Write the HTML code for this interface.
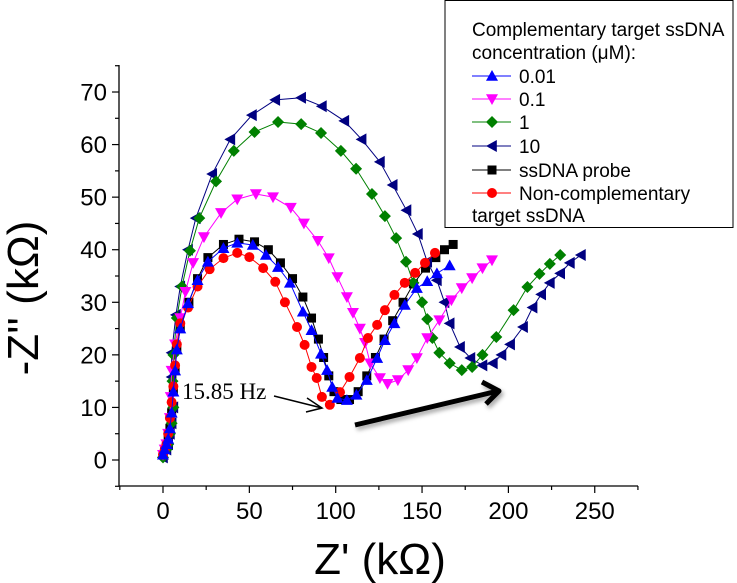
<!DOCTYPE html>
<html><head><meta charset="utf-8"><style>
body{margin:0;background:#fff;}
svg{display:block;font-family:"Liberation Sans",sans-serif;}
</style></head><body>
<svg id="chart" width="737" height="583" viewBox="0 0 737 583">
<defs><filter id="sh" x="-20%" y="-50%" width="140%" height="250%"><feDropShadow dx="2" dy="3" stdDeviation="2" flood-color="#000" flood-opacity="0.35"/></filter></defs>
<g id="axes"></g>
<g id="series"></g>
<text x="182" y="399" font-family="Liberation Serif,serif" font-size="23">15.85 Hz</text>
<line x1="274" y1="396" x2="322" y2="408" stroke="#000" stroke-width="1.5"/>
<polyline points="307,398 322,408 306,412" fill="none" stroke="#000" stroke-width="1.5"/>
<g filter="url(#sh)">
<line x1="355" y1="425" x2="498" y2="391" stroke="#000" stroke-width="5"/>
<polyline points="482,382 499,391 486,404" fill="none" stroke="#000" stroke-width="5" stroke-linejoin="round"/>
</g>
<text transform="translate(38,298) rotate(-90)" text-anchor="middle" font-size="44">-Z'' (kΩ)</text>
<text x="380" y="574" text-anchor="middle" font-size="44">Z' (kΩ)</text>
<g id="legend">
<rect x="445" y="0.5" width="288" height="227" fill="#fff" stroke="#000" stroke-width="1"/>
<text x="472" y="36" font-size="19">Complementary target ssDNA</text>
<text x="472" y="59" font-size="19">concentration (μM):</text>
<text x="472" y="222" font-size="19">target ssDNA</text>
</g>
</svg>
<script>
const xTicks=[0,50,100,150,200,250];
const yTicks=[0,10,20,30,40,50,60,70];
const seriesNames=["0.01","0.1","1","10","ssDNA probe","Non-complementary"];
const s001x=[0,1,2,3,4,5,6,7,8,10,14.5,20,26,35,43,52,59.6,66.6,73.5,81,86,91.5,95,98,101,106.5,112,118,124,128.5,134,140,147,153,158.6,166];
const s001y=[1,2,3,4,6,9,13,17,21,25,29.8,34.2,37.7,40.3,41.3,40.9,39,36.7,33.7,28.2,24.7,20.2,17.1,13.9,11.8,11.4,12.4,15.2,19.4,22.8,26,29.5,32.7,34,35.5,37];
const s01x=[0,1,2,3,4,4.5,5,7,10,13,17.4,23.7,33.6,43,53.8,63.7,74,81.6,89.7,96,101,106.5,110,114,117,120,125.6,130,136,142,147,153,160,167,173,179,185,190.5];
const s01y=[1,2,3,5,8,12,17,22,27,32,37.5,42.4,47,49.6,50.6,50,48,45,41.7,38.4,34.8,31,28,25,22.3,18.4,15.6,14.5,15.2,17.1,19.4,23.2,26.6,30.4,32.7,34.6,36.5,38];
const s1x=[0,2,3,4,5,6,5.5,6,8,11,15.6,21,30.7,41,53,66.6,80,91.5,103,111.8,121,128.5,135,140.7,145,150,153,156,160,166,173,179,185,193,203,211,218,224,230];
const s1y=[0.5,2,3,5,7,10,15,20,27,33,39.8,46,53,58.8,62.4,64.3,63.9,62.2,58.8,55.4,50.6,46.4,42.2,37.7,33.7,30,26.8,23.2,20.4,18.4,17.1,17.7,20,23.4,28.5,32.9,35.4,37.3,39];
const s10x=[0,2,3,4,5,6,5,5,7.5,10,14.5,19,28.5,39,51.5,65,80,92,105,115,125.6,133,141,147.6,153,158.6,163,166,172,178,185,191,196,201,208.5,214,219,224,230,235.6,242];
const s10y=[0.5,2,3,5,7,10,15.8,20.4,27.6,33,40,46,54.4,61,65.6,68.5,68.9,67.3,64.5,61,56.7,52.3,47.5,43,37.7,34.2,30,26,21.5,19.4,18,18.4,20,22,25.3,29,31.5,33.7,35.5,37.5,39];
const sPx=[0,1,2,3,4,5,6,7,8,10,15,20,26,35,44,53,61,68,75,81,86,90,93,96,99,103,108,113,118,123,128,133,139,145,152,158,163,168];
const sPy=[1,2,3,4,6,9,13,17,21,25,30,34.5,38.5,41,42,41.5,40,37.5,34.5,31,27,23,19.5,16,13,11.5,11.5,13,16,19.5,23,26.5,30,33.5,36.5,38.5,40,41];
const sNx=[0,1,2,3,4,5,6,7,8,10,14.5,20,27,35,43,50,58,65,70.6,77.6,82,86,89,92,96.6,102.5,108,114,118.7,124,128.5,134,140,146,151.7,157.5];
const sNy=[1,2,3,5,8,11,14,18,22,26,29,33,36.3,38.4,39.4,38.6,36.5,33.9,30,25.3,21.9,17.7,15.6,12,10.5,12.9,15.8,19.4,23.2,25.7,28.5,31.4,33.7,35.6,37.5,39.4];

const X=v=>163+v*1.727, Y=v=>460-v*5.257;
const NS="http://www.w3.org/2000/svg";
function mk(tag,attrs,parent){const e=document.createElementNS(NS,tag);for(const k in attrs)e.setAttribute(k,attrs[k]);parent.appendChild(e);return e;}
const ax=document.getElementById('axes');
const xAxis=mk('line',{x1:119,y1:486,x2:638,y2:486,stroke:'#000','stroke-width':1.3},ax);


const yAxis=mk('line',{x1:119,y1:65,x2:119,y2:486,stroke:'#000','stroke-width':1.3},ax);


for(let v=-25;v<=275;v+=25){const big=v%50===0;mk('line',{x1:X(v),y1:486,x2:X(v),y2:486+(big?7:4),stroke:'#000','stroke-width':1.2},ax);}
for(let v=-5;v<=75;v+=5){const big=v%10===0;mk('line',{x1:119,y1:Y(v),x2:119-(big?7:4),y2:Y(v),stroke:'#000','stroke-width':1.2},ax);}
xTicks.forEach(v=>{const t=mk('text',{x:X(v),y:519,'text-anchor':'middle','font-size':24},ax);t.textContent=v;

});
yTicks.forEach(v=>{const t=mk('text',{x:107,y:Y(v)+8.5,'text-anchor':'end','font-size':24},ax);t.textContent=v;

});

function marker(type,cx,cy,color,parent,r){
 r=r||5;let p;
 if(type==='up')p=`${cx},${cy-r} ${cx+r},${cy+r*0.8} ${cx-r},${cy+r*0.8}`;
 else if(type==='down')p=`${cx-r},${cy-r*0.8} ${cx+r},${cy-r*0.8} ${cx},${cy+r}`;
 else if(type==='dia')p=`${cx},${cy-r} ${cx+r},${cy} ${cx},${cy+r} ${cx-r},${cy}`;
 else if(type==='left')p=`${cx-r},${cy} ${cx+r*0.8},${cy-r} ${cx+r*0.8},${cy+r}`;
 if(type==='sq')return mk('rect',{x:cx-4.5,y:cy-4.5,width:9,height:9,fill:color},parent);
 if(type==='circ')return mk('circle',{cx:cx,cy:cy,r:5,fill:color},parent);
 return mk('polygon',{points:p,fill:color},parent);
}
const series=[
 {xs:sPx,ys:sPy,c:'#000',m:'sq',name:'series-ssdna-probe'},
 {xs:s10x,ys:s10y,c:'#000080',m:'left',name:'series-10'},
 {xs:s1x,ys:s1y,c:'#008000',m:'dia',name:'series-1'},
 {xs:s01x,ys:s01y,c:'#ff00ff',m:'down',name:'series-0-1'},
 {xs:sNx,ys:sNy,c:'#ff0000',m:'circ',name:'series-non-complementary'},
 {xs:s001x,ys:s001y,c:'#0000ff',m:'up',name:'series-0-01'}
];
const sg=document.getElementById('series');
series.forEach(s=>{
 const g=mk('g',{},sg);
 
 
 mk('polyline',{points:s.xs.map((x,i)=>X(x)+','+Y(s.ys[i])).join(' '),fill:'none',stroke:s.c,'stroke-width':1},g);
 s.xs.forEach((x,i)=>{const m=marker(s.m,X(x),Y(s.ys[i]),s.c,g,6);
 
 });
});
const lg=document.getElementById('legend');
const legRows=[['0.01','up','#0000ff',76],['0.1','down','#ff00ff',99],['1','dia','#008000',122],['10','left','#000080',146],['ssDNA probe','sq','#000',170],['Non-complementary','circ','#ff0000',193]];
legRows.forEach(r=>{
 const g=mk('g',{},lg);
 
 
 mk('line',{x1:472,y1:r[3],x2:511,y2:r[3],stroke:r[2],'stroke-width':1},g);
 marker(r[1],492,r[3],r[2],g,6);
 const t=mk('text',{x:519,y:r[3]+7,'font-size':19},g);t.textContent=r[0];
});
</script>
</body></html>
